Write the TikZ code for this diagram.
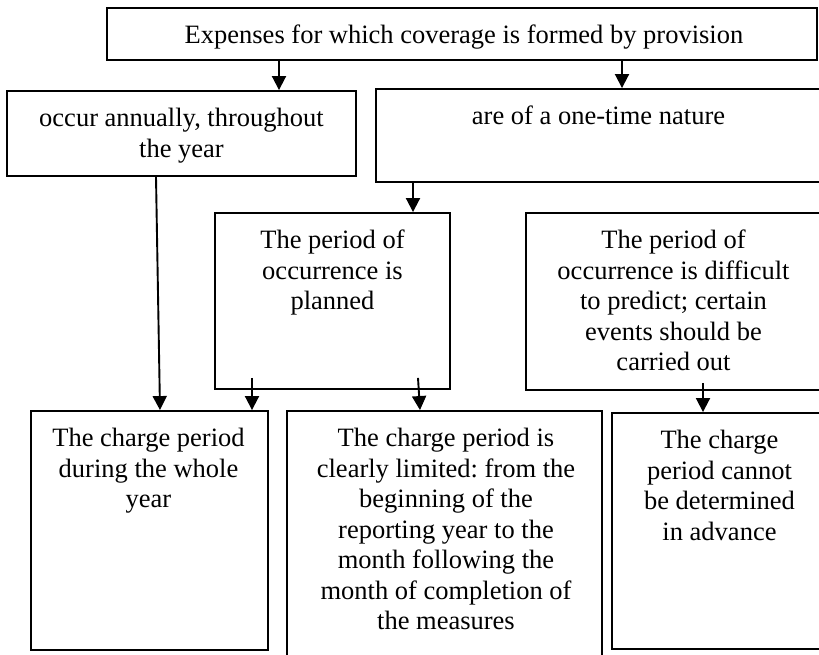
\documentclass[tikz,border=0pt]{standalone}
\usepackage{fontspec}
\setmainfont{Liberation Serif}
\usetikzlibrary{arrows.meta}
\frenchspacing
\begin{document}
\begin{tikzpicture}[x=1pt,y=-1pt,
  box/.style={draw, line width=1.9pt, rectangle, inner sep=0pt},
  txt/.style={font=\fontsize{26.5}{30.5}\selectfont, align=center, anchor=north, inner sep=0pt},
  arr/.style={line width=1.9pt, -{Triangle[width=14pt,length=14pt]}}]
\path[use as bounding box, clip] (0,0) rectangle (819,654);

% boxes
\node[box, minimum width=710pt, minimum height=52pt]  (top) at (462,34) {};
\node[box, minimum width=349pt, minimum height=85pt]  (A) at (181.5,133.5) {};
\node[box, minimum width=446pt, minimum height=93pt]  (B) at (599,135.5) {};
\node[box, minimum width=235pt, minimum height=176pt] (C) at (332.5,301) {};
\node[box, minimum width=296pt, minimum height=177pt] (G) at (674,301.5) {};
\node[box, minimum width=237pt, minimum height=239pt] (D) at (149.5,530.5) {};
\node[box, minimum width=315pt, minimum height=251pt] (E) at (444.5,536.5) {};
\node[box, minimum width=213pt, minimum height=236pt] (F) at (718.5,531) {};

% texts
\node[txt] (ttop) at (464,22.15) {\strut Expenses for which coverage is formed by provision};
\node[txt] (tA) at (181.5,105.15) {\strut occur annually, throughout\\the year};
\node[txt] (tB) at (598.5,103.15) {\strut are of a one-time nature};
\node[txt] (tC) at (332.5,227.15) {\strut The period of\\occurrence is\\planned};
\node[txt] (tG) at (673.5,227.15) {\strut The period of\\occurrence is difficult\\to predict; certain\\events should be\\carried out};
\node[txt] (tD) at (148.5,425.15) {\strut The charge period\\during the whole\\year};
\node[txt] (tE) at (446,425.15) {\strut The charge period is\\clearly limited: from the\\beginning of the\\reporting year to the\\month following the\\month of completion of\\the measures};
\node[txt] (tF) at (719.5,427.15) {\strut The charge\\period cannot\\be determined\\in advance};

% connectors
\coordinate (xa) at (279,0);
\coordinate (xb) at (622,0);
\coordinate (xc) at (413,0);
\draw[arr] (top.south -| xa) -- (A.north -| xa);
\draw[arr] (top.south -| xb) -- (B.north -| xb);
\draw[arr] (B.south -| xc) -- (C.north -| xc);
\draw[arr] ([xshift=-25.5pt]A.south) -- ([xshift=10.5pt]D.north);
\draw[arr] ([xshift=-80.5pt,yshift=12pt]C.south) -- ([xshift=102.5pt]D.north);
\draw[arr] ([xshift=85.5pt,yshift=12pt]C.south) -- ([xshift=-24.5pt]E.north);
\draw[arr] ([xshift=29pt,yshift=8pt]G.south) -- ([xshift=-15.5pt]F.north);
\end{tikzpicture}
\end{document}
